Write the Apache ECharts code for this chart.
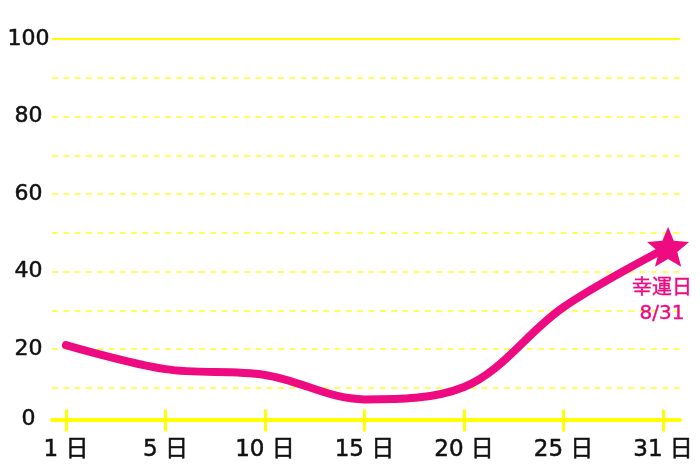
<!DOCTYPE html>
<html>
<head>
<meta charset="utf-8">
<script src="https://cdn.jsdelivr.net/npm/echarts@6/dist/echarts.min.js"></script>
<style>html,body{margin:0;padding:0;background:#fff}#c{width:700px;height:467px}</style>
</head>
<body>
<div id="c"></div>
<script>
const categories = ['1', '5', '10', '15', '20', '25', '31'];
const dayUnit = '日';
const values = [21, 14.8, 13.3, 7.0, 10.2, 30.8, 45.6];
const yTicks = [0, 20, 40, 60, 80, 100];
const luckyLabel = '幸運日\n8/31';

const pink = '#ee0a80';
const yellow = '#ffff00';
const paleYellow = '#ffff5c';
const ink = '#111111';
const fontFam = '"DejaVu Sans", "Noto Sans CJK JP", sans-serif';
const starPath = 'path://M50,0 L63,32 L98,35 L71,58 L80,92 L50,74 L20,92 L29,58 L2,35 L37,32 Z';

const idx = categories.map((c, i) => i);
const seriesData = values.map((v, i) => {
  if (i === values.length - 1) {
    return {
      value: [i, v],
      symbol: starPath,
      symbolSize: [42, 40],
      symbolOffset: [5, -3],
      itemStyle: { color: pink },
      label: {
        show: true,
        position: 'bottom',
        distance: 9,
        offset: [-6, 0],
        formatter: luckyLabel,
        color: pink,
        fontSize: 20,
        lineHeight: 25,
        fontFamily: fontFam,
        align: 'center',
        textBorderColor: pink,
        textBorderWidth: 0.4
      }
    };
  }
  return { value: [i, v] };
});

const chart = echarts.init(document.getElementById('c'), null, { renderer: 'canvas' });
const xCommon = {
  type: 'value', min: -0.14, max: 6.17, position: 'bottom', offset: -7,
  splitLine: { show: false }
};
chart.setOption({
  animation: false,
  backgroundColor: '#ffffff',
  grid: { left: 52, right: 20, top: 39, bottom: 40.5, containLabel: false, outerBoundsMode: 'none' },
  xAxis: [
    Object.assign({}, xCommon, {
      axisLine: { show: true, onZero: false, lineStyle: { color: yellow, width: 4 } },
      axisTick: { show: true, customValues: idx, length: 12, lineStyle: { color: yellow, width: 3 } },
      axisLabel: {
        show: true, customValues: idx, margin: 19,
        formatter: v => {
          const i = Math.round(v);
          return categories[i] !== undefined ? categories[i] + ' ' + dayUnit : '';
        },
        color: ink, fontSize: 23, fontFamily: fontFam,
        textBorderColor: ink, textBorderWidth: 0.5
      }
    }),
    Object.assign({}, xCommon, {
      axisLine: { show: false, onZero: false },
      axisTick: { show: true, inside: true, customValues: idx, length: 10, lineStyle: { color: yellow, width: 3 } },
      axisLabel: { show: false }
    })
  ],
  yAxis: {
    type: 'value', min: 0, max: 100, interval: 10,
    axisLine: { show: false },
    axisTick: { show: false },
    splitLine: {
      show: true, showMinLine: false, showMaxLine: false,
      lineStyle: { color: paleYellow, width: 2, type: [6, 5.3] }
    },
    axisLabel: {
      show: true, align: 'center', margin: 23.5,
      formatter: v => {
        if (yTicks.indexOf(v) < 0) return '';
        if (v === 0) return '{z|0}';
        return String(v);
      },
      rich: { z: { padding: [0, 0, 15, 0], fontSize: 22, color: ink, fontFamily: fontFam, textBorderColor: ink, textBorderWidth: 0.5 } },
      color: ink, fontSize: 22, fontFamily: fontFam,
      textBorderColor: ink, textBorderWidth: 0.5
    }
  },
  series: [{
    type: 'line',
    xAxisIndex: 0,
    data: seriesData,
    smooth: 0.35,
    symbol: 'none',
    lineStyle: { color: pink, width: 8, cap: 'round', join: 'round' },
    itemStyle: { color: pink },
    z: 5,
    markLine: {
      silent: true, symbol: 'none', label: { show: false },
      lineStyle: { color: yellow, width: 2, type: 'solid' },
      data: [{ yAxis: 100 }],
      z: 1
    }
  }]
});
</script>
</body>
</html>
